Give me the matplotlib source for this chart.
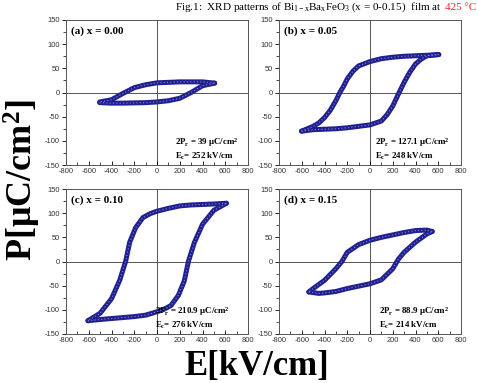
import numpy as np
import matplotlib
matplotlib.use("Agg")
import matplotlib.pyplot as plt
from matplotlib.ticker import MultipleLocator

plt.rcParams["axes.unicode_minus"] = False
plt.rcParams["font.family"] = ["Liberation Sans", "DejaVu Sans"]
plt.rcParams["mathtext.fontset"] = "custom"
plt.rcParams["mathtext.rm"] = "Liberation Serif"
plt.rcParams["mathtext.it"] = "Liberation Serif:italic"
plt.rcParams["mathtext.bf"] = "Liberation Serif:bold"

# P-E loops, each as an upper (field sweeping down) and lower (sweeping up) branch
# x = 0.00
e_up_a = [507, 400, 300, 200, 100, 0, -100, -200, -300, -400, -504]
p_up_a = [19.4, 22, 22, 22, 21, 20, 16, 10, -2, -15, -19.5]
e_lo_a = [-504, -400, -300, -200, -100, 0, 100, 200, 300, 400, 507]
p_lo_a = [-21, -22, -22, -21.5, -21, -19.5, -17, -12, 0, 14, 19.4]

# x = 0.05
e_up_b = [605, 500, 400, 300, 200, 100, 0, -100, -150, -200, -230, -265, -300, -350, -400, -450, -500, -602]
p_up_b = [78.5, 77, 76, 75, 73, 70, 64, 55, 44, 28, 14, 0, -17, -37, -52, -63, -70, -80]
e_lo_b = [-602, -500, -400, -300, -200, -100, 0, 100, 150, 200, 250, 300, 350, 400, 450, 500, 605]
p_lo_b = [-80, -77, -76, -75, -73, -70, -67, -59, -46, -28, -3, 21, 42, 59, 69, 76, 78.5]

# x = 0.10
e_up_c = [610, 500, 400, 300, 200, 100, 0, -60, -123, -188, -240, -276, -328, -400, -500, -607]
p_up_c = [120.5, 119, 118, 117, 115, 110, 104, 99, 91, 70, 40, 0, -39, -77, -107, -122.6]
e_lo_c = [-607, -500, -400, -300, -200, -100, 0, 60, 123, 188, 240, 276, 328, 400, 500, 610]
p_lo_c = [-122.6, -120, -118, -116, -114, -111, -104, -99, -91, -70, -40, 0, 39, 77, 106, 120.5]

# x = 0.15
e_up_d = [547, 500, 400, 300, 200, 100, 0, -100, -200, -247, -300, -400, -500, -538]
p_up_d = [62, 65, 64, 60, 55, 50, 44, 35, 19, 0, -15, -39, -56, -63]
e_lo_d = [-538, -450, -400, -300, -200, -100, 0, 100, 200, 250, 300, 400, 500, 547]
p_lo_d = [-63, -66, -65, -62, -56, -51, -46, -38, -15, 5, 19, 40, 57, 62]

labels = ["(a) x = 0.00", "(b) x = 0.05", "(c) x = 0.10", "(d) x = 0.15"]
two_pr = ["39", "127.1", "210.9", "88.9"]
ec = ["252", "248", "276", "214"]

loops = [
    (e_up_a, p_up_a, e_lo_a, p_lo_a),
    (e_up_b, p_up_b, e_lo_b, p_lo_b),
    (e_up_c, p_up_c, e_lo_c, p_lo_c),
    (e_up_d, p_up_d, e_lo_d, p_lo_d),
]

fig = plt.figure(figsize=(4.78, 3.83), dpi=100)
W, H = 478, 383
boxes = [(66, 20), (279, 20), (66, 189), (279, 189)]
ann_x = [0.60, 0.53, 0.49, 0.55]
navy = "#202090"

for i, (left, top) in enumerate(boxes):
    ax = fig.add_axes([left / W, 1 - (top + 145) / H, 182 / W, 145 / H])
    e_up, p_up, e_lo, p_lo = loops[i]
    for e, p in ((e_up, p_up), (e_lo, p_lo)):
        ax.plot(e, p, color=navy, lw=3.6, solid_capstyle="round",
                solid_joinstyle="round", zorder=3)
        ax.plot(e, p, color="#8585c8", lw=0.8, ls=(0, (1, 2)), zorder=4)
    ax.axhline(0, color="#555555", lw=0.7, zorder=1)
    ax.axvline(0, color="#555555", lw=0.7, zorder=1)
    ax.set_xlim(-800, 800)
    ax.set_ylim(-150, 150)
    ax.xaxis.set_major_locator(MultipleLocator(200))
    ax.xaxis.set_minor_locator(MultipleLocator(100))
    ax.yaxis.set_major_locator(MultipleLocator(50))
    ax.yaxis.set_minor_locator(MultipleLocator(25))
    ax.tick_params(axis="x", which="both", direction="in", pad=2)
    ax.tick_params(axis="y", which="both", direction="out", pad=1.5)
    ax.tick_params(which="major", length=3, width=0.6, labelsize=5.4, labelcolor="#333333")
    ax.tick_params(which="minor", length=2, width=0.5)
    for sp in ax.spines.values():
        sp.set_color("#555555")
        sp.set_linewidth(0.7)
    ax.text(0.025, 0.925, labels[i], transform=ax.transAxes, va="center", ha="left",
            family="Liberation Serif", weight="bold", fontsize=8)
    ax.text(ann_x[i], 0.155, "2P$_\\mathbf{r}$ = " + two_pr[i] + " μC/cm$^\\mathbf{2}$",
            transform=ax.transAxes, va="center", ha="left",
            family="Liberation Serif", weight="bold", fontsize=6.4)
    ax.text(ann_x[i], 0.058, "E$_\\mathbf{c}$= " + ec[i] + " kV/cm",
            transform=ax.transAxes, va="center", ha="left",
            family="Liberation Serif", weight="bold", fontsize=6.4)

fig.text(22 / W, 1 - 180 / H, "P[μC/cm$^\\mathbf{2}$]", rotation=90, ha="center", va="center",
         family="Liberation Serif", weight="bold", fontsize=26)
fig.text(257 / W, 1 - 366 / H, "E[kV/cm]", ha="center", va="center",
         family="Liberation Serif", weight="bold", fontsize=25)

# figure caption squeezed into the strip above the panels
fig.text(442 / W, 1 - 10 / H,
         "Fig.1:  XRD patterns of Bi$_{\\mathrm{1-x}}$Ba$_{\\mathrm{x}}$FeO$_{\\mathrm{3}}$ (x = 0-0.15)  film at",
         ha="right", va="baseline", family="Liberation Serif", fontsize=8)
fig.text(445 / W, 1 - 10 / H, "425 °C", ha="left", va="baseline",
         family="Liberation Serif", fontsize=8, color="#ff2020")

fig.savefig("out.png", dpi=100)
